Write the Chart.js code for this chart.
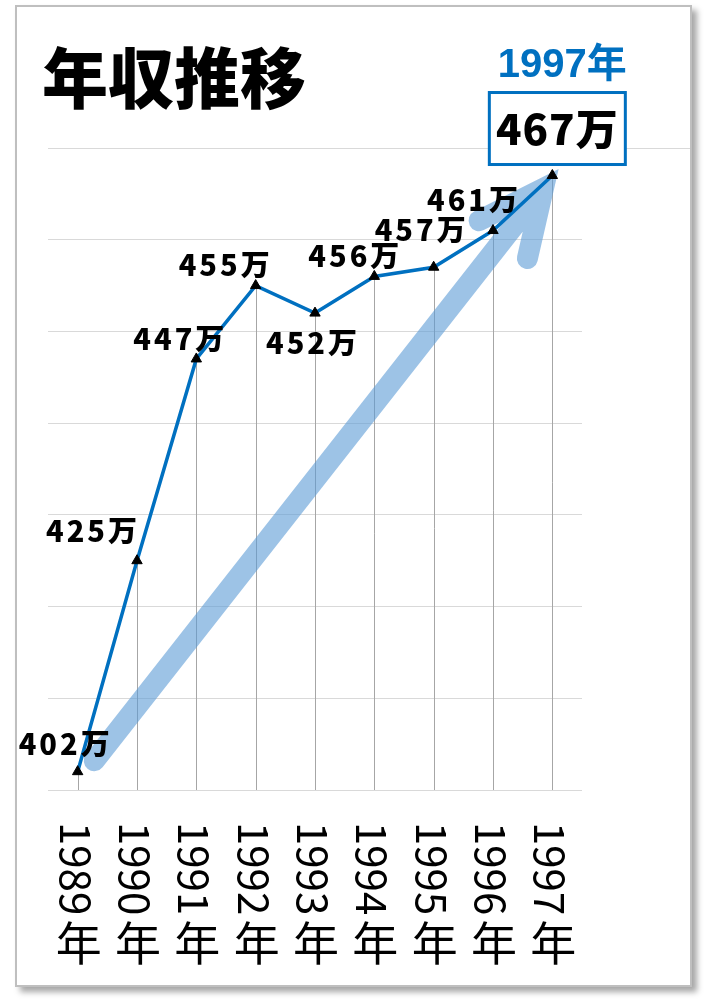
<!DOCTYPE html>
<html>
<head>
<meta charset="utf-8">
<script src="https://cdn.jsdelivr.net/npm/chart.js@4.4.1/dist/chart.umd.min.js"></script>
<style>
  html, body { margin: 0; padding: 0; background: #fff; }
  #frame {
    position: absolute; left: 15px; top: 5px; width: 673px; height: 978px;
    border: 2px solid #bfbfbf; box-shadow: 5px 5px 6px rgba(0,0,0,0.35); background: #fff;
  }
  #c { position: absolute; left: 0; top: 0; }
</style>
</head>
<body>
<div id="frame"></div>
<canvas id="c" width="704" height="1001"></canvas>
<script>
// data
const years = ['1989', '1990', '1991', '1992', '1993', '1994', '1995', '1996', '1997'];
const incomes = [402, 425, 447, 455, 452, 456, 457, 461, 467];
const yMin = 400, yMax = 470, yStep = 10;
const highlightIndex = 8;
// trend arrow, in (category index, value)
const arrowFrom = [0.28, 403.2];
const arrowTo = [7.85, 465.6];

// label offsets from each point (px)
const labelOffsets = [[-12, -28], [-44, -30], [-16, -20], [-30, -21], [-2, 30], [-19, -20], [-12, -37], [-19, -31], null];

const CJK = '"Noto Sans CJK JP", "Noto Sans", sans-serif';
const BLUE = '#0070C0';

const xPix = (scale, idx) => {
    const i0 = Math.floor(idx);
    const p0 = scale.getPixelForValue(i0);
    const p1 = scale.getPixelForValue(i0 + 1);
    return p0 + (p1 - p0) * (idx - i0);
};

const decorPlugin = {
    id: 'decor',
    beforeDatasetsDraw(chart) {
        const { ctx, scales: { x, y }, chartArea } = chart;
        ctx.save();
        // top gridline runs on to the frame
        ctx.strokeStyle = '#d9d9d9';
        ctx.lineWidth = 1;
        ctx.beginPath();
        ctx.moveTo(chartArea.right, Math.round(y.getPixelForValue(yMax)) + 0.5);
        ctx.lineTo(690, Math.round(y.getPixelForValue(yMax)) + 0.5);
        ctx.stroke();

        // drop lines
        ctx.strokeStyle = '#a6a6a6';
        incomes.forEach((v, i) => {
            const px = Math.round(x.getPixelForValue(i)) + 0.5;
            ctx.beginPath();
            ctx.moveTo(px, y.getPixelForValue(v));
            ctx.lineTo(px, y.getPixelForValue(yMin));
            ctx.stroke();
        });

        // trend arrow
        const sx = xPix(x, arrowFrom[0]), sy = y.getPixelForValue(arrowFrom[1]);
        const tx = xPix(x, arrowTo[0]), ty = y.getPixelForValue(arrowTo[1]);
        const back = Math.atan2(sy - ty, sx - tx);
        const armLen = 72, spread = 0.44;
        ctx.strokeStyle = 'rgba(91,155,213,0.6)';
        ctx.lineWidth = 21;
        ctx.lineCap = 'round';
        ctx.lineJoin = 'miter';
        ctx.beginPath();
        ctx.moveTo(sx, sy);
        ctx.lineTo(tx, ty);
        ctx.moveTo(tx + armLen * Math.cos(back + spread), ty + armLen * Math.sin(back + spread));
        ctx.lineTo(tx, ty);
        ctx.lineTo(tx + armLen * Math.cos(back - spread), ty + armLen * Math.sin(back - spread));
        ctx.stroke();
        ctx.restore();
    },
    afterDatasetsDraw(chart) {
        const { ctx, scales: { x, y } } = chart;
        ctx.save();
        // value labels
        ctx.fillStyle = '#000';
        ctx.font = '900 29px ' + CJK;
        ctx.letterSpacing = '3px';
        ctx.textAlign = 'center';
        ctx.textBaseline = 'middle';
        incomes.forEach((v, i) => {
            const off = labelOffsets[i];
            if (!off) return;
            ctx.fillText(v + '万', x.getPixelForValue(i) + off[0], y.getPixelForValue(v) + off[1]);
        });

        // highlight box
        const hx = x.getPixelForValue(highlightIndex);
        const hy = y.getPixelForValue(incomes[highlightIndex]);
        const bx = hx - 63, by = hy - 83, bw = 136, bh = 72;
        ctx.fillStyle = '#fff';
        ctx.fillRect(bx, by, bw, bh);
        ctx.strokeStyle = BLUE;
        ctx.lineWidth = 3;
        ctx.strokeRect(bx, by, bw, bh);
        ctx.fillStyle = '#000';
        ctx.font = '900 42px ' + CJK;
        ctx.letterSpacing = '1px';
        ctx.fillText(incomes[highlightIndex] + '万', bx + bw / 2, by + bh / 2 + 1);
        ctx.fillStyle = BLUE;
        ctx.font = 'bold 40px "Liberation Sans Narrow", "Liberation Sans", ' + CJK;
        ctx.letterSpacing = '0px';
        ctx.fillText(years[highlightIndex] + '年', hx + 10, hy - 110);

        // x labels: digits turned, 年 upright
        ctx.fillStyle = '#000';
        years.forEach((yr, i) => {
            const px = x.getPixelForValue(i);
            ctx.save();
            ctx.translate(px - 2, 822);
            ctx.rotate(Math.PI / 2);
            ctx.font = '42px ' + CJK;
            ctx.textAlign = 'left';
            ctx.textBaseline = 'middle';
            ctx.fillText(yr, 0, 0);
            ctx.restore();
            ctx.font = '46px ' + CJK;
            ctx.textAlign = 'center';
            ctx.textBaseline = 'middle';
            ctx.fillText('年', px + 1, 943);
        });

        // title
        ctx.textAlign = 'left';
        ctx.font = '900 66px ' + CJK;
        ctx.fillText('年収推移', 42, 78);
        ctx.restore();
    }
};

new Chart(document.getElementById('c'), {
    type: 'line',
    data: {
        labels: years,
        datasets: [{
            data: incomes,
            borderColor: BLUE,
            borderWidth: 3.5,
            tension: 0,
            pointStyle: 'triangle',
            pointRadius: 6,
            pointBackgroundColor: '#000',
            pointBorderColor: '#000',
            pointBorderWidth: 1
        }]
    },
    options: {
        responsive: false,
        animation: false,
        layout: { padding: { left: 48, right: 122, top: 148, bottom: 211 } },
        plugins: {
            legend: { display: false },
            tooltip: { enabled: false },
            title: { display: false }
        },
        scales: {
            x: {
                offset: true,
                grid: { display: false, drawTicks: false },
                border: { display: false },
                ticks: { display: false }
            },
            y: {
                min: yMin,
                max: yMax,
                ticks: { display: false, stepSize: yStep },
                grid: { color: '#d9d9d9', drawTicks: false },
                border: { display: false }
            }
        }
    },
    plugins: [decorPlugin]
});
</script>
</body>
</html>
